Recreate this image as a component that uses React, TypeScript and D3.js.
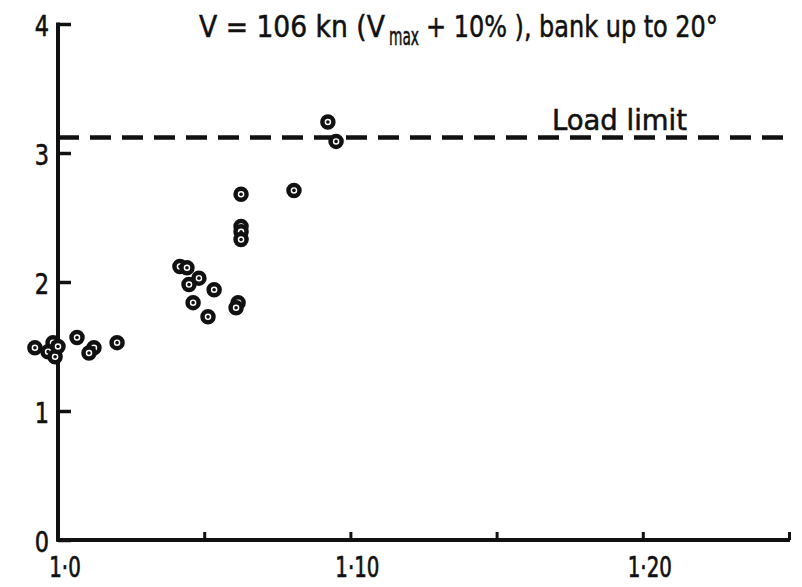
import React, { useRef, useEffect } from "react";
import * as d3 from "d3";

// tick positions and labels
const xTicks = [1.0, 1.05, 1.1, 1.15, 1.2, 1.25];
const xTickLabels = ["1·0", "", "1·10", "", "1·20", ""];
const yTicks = [0, 1, 2, 3, 4];
const loadLimit = 3.12;

const ratio = [
	0.9921, 0.9983, 0.9966, 0.999, 1.0, 1.0065, 1.0123, 1.0106, 1.0202,
	1.0417, 1.0441, 1.0482, 1.0448, 1.0534, 1.0462, 1.0513, 1.0616, 1.0609,
	1.0626, 1.0626, 1.0626, 1.0626,
	1.0807, 1.0923, 1.0951,
];
const loadFactor = [
	1.49, 1.53, 1.46, 1.42, 1.5, 1.57, 1.49, 1.45, 1.53,
	2.12, 2.11, 2.03, 1.98, 1.94, 1.84, 1.73, 1.84, 1.8,
	2.68, 2.43, 2.39, 2.33,
	2.71, 3.24, 3.09,
];

const FONT = "'DejaVu Sans Condensed', 'Liberation Sans Narrow', sans-serif";

// place a text at (x, y) and squeeze it sideways (the lettering is narrow)
function placeText(sel, x, y, k) {
	sel.attr("x", 0).attr("y", 0).attr("transform", `translate(${x},${y}) scale(${k},1)`);
}

// squeeze a text so it is `len` pixels wide
function fitText(sel, x, y, len) {
	const w = sel.node().getComputedTextLength();
	placeText(sel, x, y, w > 0 ? len / w : 1);
}

const App = () => {
	const svgRef = useRef(null);
	const width = 802;
	const height = 587;

	useEffect(() => {
		const svg = d3.select(svgRef.current);
		svg.selectAll("*").remove();

		const x = d3.scaleLinear().domain([1.0, 1.25]).range([58, 789]);
		const y = d3.scaleLinear().domain([0, 4]).range([540, 24]);

		// y axis: ticks point inward, labels drawn below
		const yAxis = d3.axisLeft(y).tickValues(yTicks).tickSizeInner(-13).tickSizeOuter(0).tickFormat(() => "");
		const gy = svg.append("g").attr("transform", `translate(${x(1.0)},0)`).call(yAxis);
		gy.select(".domain").remove();
		gy.selectAll("line").attr("stroke", "#111").attr("stroke-width", 3.5);

		// x axis: ticks point upward
		const xAxis = d3.axisBottom(x).tickValues(xTicks).tickSizeInner(-8).tickSizeOuter(0).tickFormat(() => "");
		const gx = svg.append("g").attr("transform", `translate(0,${y(0)})`).call(xAxis);
		gx.select(".domain").remove();
		gx.selectAll("line").attr("stroke", "#111").attr("stroke-width", 3);

		// tick labels
		svg.append("g").selectAll("text")
			.data(yTicks)
			.join("text")
			.attr("font-family", FONT).attr("font-size", 29).attr("fill", "#111")
			.attr("stroke", "#111").attr("stroke-width", 0.6)
			.attr("text-anchor", "end")
			.text(d => d3.format("d")(d))
			.each(function(d) { placeText(d3.select(this), x(1.0) - 9, y(d) + 12, 0.86); });

		svg.append("g").selectAll("text")
			.data(xTicks.filter((d, i) => xTickLabels[i] !== ""))
			.join("text")
			.attr("font-family", FONT).attr("font-size", 29).attr("fill", "#111")
			.attr("stroke", "#111").attr("stroke-width", 0.7)
			.attr("text-anchor", "middle")
			.text(d => xTickLabels[xTicks.indexOf(d)])
			.each(function(d) { placeText(d3.select(this), x(d) + 7, y(0) + 37, 0.76); });

		// axis frame lines
		svg.append("line")
			.attr("x1", x(1.0)).attr("x2", x(1.0)).attr("y1", y(4) - 1.5).attr("y2", y(0) + 1.5)
			.attr("stroke", "#111").attr("stroke-width", 4);
		svg.append("line")
			.attr("x1", x(1.0) - 1.5).attr("x2", x(1.25) + 1).attr("y1", y(0)).attr("y2", y(0))
			.attr("stroke", "#111").attr("stroke-width", 4);

		// load limit
		svg.append("line")
			.attr("x1", x(1.0)).attr("x2", x(1.25))
			.attr("y1", y(loadLimit)).attr("y2", y(loadLimit))
			.attr("stroke", "#111").attr("stroke-width", 4.5)
			.attr("stroke-dasharray", "21 11");
		const ll = svg.append("text")
			.attr("font-family", FONT).attr("font-size", 28).attr("fill", "#111")
			.attr("stroke", "#111").attr("stroke-width", 0.5)
			.text("Load limit");
		fitText(ll, 552, y(loadLimit) - 8, 135);

		// title, in three pieces so the subscript sits lower
		const titleParts = [
			{ text: "V = 106 kn (V", x: 199, y: 37, len: 186, size: 30 },
			{ text: "max", x: 389, y: 45, len: 30, size: 24 },
			{ text: "+ 10% ), bank up to 20°", x: 426, y: 37, len: 292, size: 30 },
		];
		svg.append("g").selectAll("text")
			.data(titleParts)
			.join("text")
			.attr("font-family", FONT).attr("font-size", d => d.size).attr("fill", "#111")
			.attr("stroke", "#111").attr("stroke-width", 0.5)
			.text(d => d.text)
			.each(function(d) { fitText(d3.select(this), d.x, d.y, d.len); });

		// points
		const pts = ratio.map((r, i) => [r, loadFactor[i]]);
		const g = svg.append("g");
		g.selectAll("circle.ring")
			.data(pts)
			.join(
				function(enter){
					return enter.append("circle")
						.attr("class", "ring")
						.attr("cx", d => x(d[0]))
						.attr("cy", d => y(d[1]))
						.attr("r", 5.5)
						.attr("fill", "white")
						.attr("stroke", "#111")
						.attr("stroke-width", 4.5);
				}
			);
		g.selectAll("circle.dot")
			.data(pts)
			.join("circle")
			.attr("class", "dot")
			.attr("cx", d => x(d[0]))
			.attr("cy", d => y(d[1]))
			.attr("r", 1.8)
			.attr("fill", "#111");
	}, []);

	return (
		<svg ref={svgRef} width={width} height={height}
			style={{ position: "absolute", left: 0, top: 0, background: "white" }}>
		</svg>
	);
};

export default App;
